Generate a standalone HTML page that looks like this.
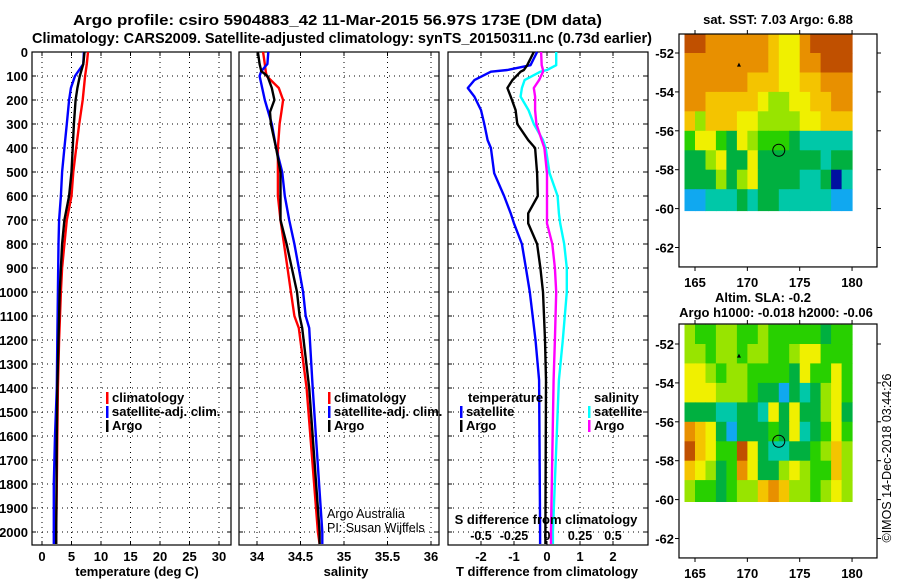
<!DOCTYPE html>
<html><head><meta charset="utf-8"><style>
body{margin:0;background:#fff}
svg{display:block;font-family:"Liberation Sans",sans-serif;font-weight:bold}
</style></head><body>
<svg id="s" width="900" height="580" viewBox="0 0 900 580"></svg>
<script>
const depthTicks=[0,100,200,300,400,500,600,700,800,900,1000,1100,1200,1300,1400,1500,1600,1700,1800,1900,2000];
const tempTicks=[0,5,10,15,20,25,30];
const salTicks=[34,34.5,35,35.5,36];
const salTickLabels=["34","34.5","35","35.5","36"];
const tdTicks=[-2,-1,0,1,2];
const sdTicks=[-0.5,-0.25,0,0.25,0.5];
const sdTickLabels=["-0.5","-0.25","0","0.25","0.5"];
const tDepth=[0,50,100,150,200,300,400,500,600,700,800,900,1000,1200,1400,1600,1800,2000,2050];
const tempClim=[7.8,7.6,7.3,7.1,6.9,6.3,5.8,5.3,5.0,4.2,3.8,3.4,3.2,2.9,2.7,2.6,2.5,2.4,2.4];
const tempSat=[7.1,7.0,5.6,4.9,4.6,4.2,3.8,3.4,3.2,2.9,2.8,2.75,2.7,2.6,2.5,2.2,2.0,2.0,2.0];
const tempArgo=[7.2,7.0,6.4,6.0,5.7,5.4,5.2,5.0,4.6,3.8,3.4,3.2,3.0,2.8,2.6,2.5,2.45,2.4,2.4];
const sDepth=[0,50,80,100,150,200,250,300,400,500,600,700,800,900,1000,1100,1150,1400,2000,2050];
const salClim=[34.07,34.09,34.1,34.11,34.25,34.3,34.28,34.26,34.24,34.24,34.24,34.27,34.31,34.35,34.39,34.43,34.48,34.57,34.70,34.72];
const salSat=[34.13,34.12,34.05,34.03,34.06,34.09,34.13,34.17,34.22,34.29,34.32,34.37,34.43,34.48,34.53,34.56,34.6,34.64,34.75,34.75];
const salArgo=[34.01,34.03,34.05,34.12,34.17,34.2,34.15,34.16,34.22,34.27,34.27,34.27,34.34,34.4,34.46,34.49,34.52,34.6,34.72,34.72];
const dDepth=[0,55,75,82,117,150,186,242,300,367,400,505,600,672,714,800,900,1000,1200,1367,2000,2050];
const tdSat=[-0.3,-0.5,-1.2,-1.7,-2.2,-2.4,-2.2,-2.0,-1.9,-1.8,-1.7,-1.6,-1.3,-1.1,-1.0,-0.76,-0.64,-0.52,-0.35,-0.24,-0.21,-0.21];
const tdArgo=[-0.4,-0.6,-0.7,-0.8,-1.05,-1.2,-1.1,-0.95,-0.9,-0.57,-0.36,-0.3,-0.28,-0.57,-0.57,-0.3,-0.2,-0.12,-0.06,-0.03,-0.05,-0.05];
const sdArgo=[-0.045,-0.04,-0.03,-0.03,-0.06,-0.1,-0.09,-0.09,-0.08,-0.04,-0.02,0,0,0,0,0.04,0.06,0.07,0.06,0.05,0.03,0.03];
const sdSat=[0.07,0.07,0.0,-0.05,-0.17,-0.19,-0.2,-0.14,-0.1,-0.03,-0.01,0.02,0.08,0.09,0.1,0.13,0.15,0.15,0.12,0.09,0.045,0.045];
const sstGrid=["9988888876689999","8888888876688999","8888887776677888","8877777655667788","7577766555566777","4664365444322222","3356336333333233","3335356333322302","1122232332222211"];
const slaGrid=["5445544544444344","5545545544566444","6654554444364464","6665554331323564","3332233263633563","8763133343623464","9764496322334575","7653486335654475","5443455787554565"];
const palette=["#0010a0","#10a8f0","#00c8a8","#00b040","#28d000","#98e400","#f0f000","#f4c400","#e89000","#c05000"];

const S=document.getElementById('s');const NS='http://www.w3.org/2000/svg';
function el(t,a,p){const e=document.createElementNS(NS,t);for(const k in a)e.setAttribute(k,a[k]);(p||S).appendChild(e);return e;}
function txt(x,y,s,o){o=o||{};const e=el('text',{x:x,y:y,'font-size':o.fs||13,'text-anchor':o.a||'start','font-weight':o.w||'bold',fill:o.c||'#000'});if(o.tr)e.setAttribute('transform',o.tr);if(o.tl){e.setAttribute('textLength',o.tl);e.setAttribute('lengthAdjust','spacingAndGlyphs');}e.textContent=s;return e;}
const B=545;
const yD=d=>52+d*0.24;
const panels=[
 {x0:32,x1:231,fx:v=>42+v*5.9,name:'temperature-panel'},
 {x0:239,x1:439,fx:v=>257+(v-34)*87,name:'salinity-panel'},
 {x0:448,x1:648,fx:v=>547+v*33,name:'difference-panel'}];
let t1=txt(73,25,"Argo profile: csiro 5904883_42 11-Mar-2015 56.97S 173E (DM data)",{fs:15,tl:529});

let t2=txt(32,43,"Climatology: CARS2009. Satellite-adjusted climatology: synTS_20150311.nc (0.73d earlier)",{fs:15,tl:620});

panels.forEach((p,i)=>{
 const g=el('g',{});
 p.g=g;
 depthTicks.forEach(d=>{el('line',{x1:p.x0,x2:p.x1,y1:yD(d),y2:yD(d),stroke:'#000','stroke-width':1,'stroke-dasharray':'1,4'},g);
  el('line',{x1:p.x0,x2:p.x0+4,y1:yD(d),y2:yD(d),stroke:'#000'},g);el('line',{x1:p.x1-4,x2:p.x1,y1:yD(d),y2:yD(d),stroke:'#000'},g);});
 el('rect',{x:p.x0,y:52,width:p.x1-p.x0,height:B-52,fill:'none',stroke:'#000','stroke-width':1.2},g);
});
depthTicks.forEach(d=>{const e=txt(28,yD(d)+5,String(d),{a:'end'});});
function vgrid(p,vals,fx){vals.forEach(v=>{const x=fx(v);el('line',{x1:x,x2:x,y1:52,y2:B,stroke:'#000','stroke-dasharray':'1,4'},p.g);el('line',{x1:x,x2:x,y1:B-4,y2:B,stroke:'#000'},p.g);el('line',{x1:x,x2:x,y1:52,y2:56,stroke:'#000'},p.g);});}
vgrid(panels[0],tempTicks,panels[0].fx);
vgrid(panels[1],salTicks,panels[1].fx);
vgrid(panels[2],tdTicks,panels[2].fx);
tempTicks.forEach(v=>{const e=txt(panels[0].fx(v),561,String(v),{a:'middle'});});
salTicks.forEach((v,i)=>{const e=txt(panels[1].fx(v),561,salTickLabels[i],{a:'middle'});});
tdTicks.forEach(v=>{const e=txt(panels[2].fx(v),561,String(v),{a:'middle'});});
const fs=v=>547+v*132;
sdTicks.forEach((v,i)=>{const e=txt(fs(v),540,sdTickLabels[i],{a:'middle',fs:12.5});});
let e;
e=txt(137,576,"temperature (deg C)",{a:'middle'});
e=txt(346,576,"salinity",{a:'middle'});
e=txt(547,576,"T difference from climatology",{a:'middle'});
e=txt(546,524,"S difference from climatology",{a:'middle'});
function line(p,depths,vals,fx,col,name){const pts=depths.map((d,i)=>fx(vals[i]).toFixed(1)+','+yD(d).toFixed(1)).join(' ');
 const l=el('polyline',{points:pts,fill:'none',stroke:col,'stroke-width':2.4,'stroke-linejoin':'round'},p.g);}
line(panels[0],tDepth,tempClim,panels[0].fx,'#ff0000','temp-climatology-line');
line(panels[0],tDepth,tempSat,panels[0].fx,'#0000ff','temp-satellite-line');
line(panels[0],tDepth,tempArgo,panels[0].fx,'#000','temp-argo-line');
line(panels[1],sDepth,salClim,panels[1].fx,'#ff0000','sal-climatology-line');
line(panels[1],sDepth,salSat,panels[1].fx,'#0000ff','sal-satellite-line');
line(panels[1],sDepth,salArgo,panels[1].fx,'#000','sal-argo-line');
line(panels[2],dDepth,sdSat,fs,'#00ffff','s-diff-satellite-line');
line(panels[2],dDepth,sdArgo,fs,'#ff00ff','s-diff-argo-line');
line(panels[2],dDepth,tdSat,panels[2].fx,'#0000ff','t-diff-satellite-line');
line(panels[2],dDepth,tdArgo,panels[2].fx,'#000','t-diff-argo-line');
function leg(x,y,col,label,name){const g=el('g',{});
 el('rect',{x:x,y:y-10,width:2.5,height:12,fill:col},g);const t=document.createElementNS(NS,'text');t.setAttribute('x',x+6);t.setAttribute('y',y);t.setAttribute('font-size',13);t.textContent=label;g.appendChild(t);}
leg(106,402,'#ff0000','climatology','legend-climatology');
leg(106,416,'#0000ff','satellite-adj. clim.','legend-satellite-adj');
leg(106,430,'#000','Argo','legend-argo');
leg(328,402,'#ff0000','climatology','legend-sal-climatology');
leg(328,416,'#0000ff','satellite-adj. clim.','legend-sal-satellite-adj');
leg(328,430,'#000','Argo','legend-sal-argo');
e=txt(468,402,"temperature");
leg(460,416,'#0000ff','satellite','legend-t-satellite');
leg(460,430,'#000','Argo','legend-t-argo');
e=txt(594,402,"salinity");
leg(588,416,'#00ffff','satellite','legend-s-satellite');
leg(588,430,'#ff00ff','Argo','legend-s-argo');
e=txt(327,518,"Argo Australia",{w:'normal',fs:12.5});
e=txt(327,532,"PI: Susan Wijffels",{w:'normal',fs:12.5});
const lonTicks=[165,170,175,180],latTicks=[-52,-54,-56,-58,-60,-62];
function map(top,lat52,grid,name){
 const g=el('g',{});
 const fx=lon=>695+(lon-165)*10.47, fy=lat=>lat52+(-52-lat)*19.45;
 grid.forEach((row,r)=>{for(let c=0;c<row.length;c++){const lat0=-51-r, lat1=(r==8?-60.1:-52-r);
  const x=fx(164+c),y=fy(lat0);const cell=el('rect',{x:x.toFixed(1),y:y.toFixed(1),width:(fx(165+c)-x+0.5).toFixed(1),height:(fy(lat1)-y+0.5).toFixed(1),fill:palette[+row[c]]},g);
  }});
 el('rect',{x:679,y:top,width:198,height:fy(-63)-top,fill:'none',stroke:'#000','stroke-width':1.2},g);
 lonTicks.forEach(l=>{el('line',{x1:fx(l),x2:fx(l),y1:top,y2:top-4,stroke:'#000'},g);el('line',{x1:fx(l),x2:fx(l),y1:fy(-63),y2:fy(-63)+4,stroke:'#000'},g);
  const t=txt(fx(l),fy(-63)+20,String(l),{a:'middle'});});
 latTicks.forEach(l=>{el('line',{x1:679,x2:675,y1:fy(l),y2:fy(l),stroke:'#000'},g);el('line',{x1:877,x2:881,y1:fy(l),y2:fy(l),stroke:'#000'},g);
  const t=txt(674,fy(l)+5,String(l),{a:'end'});});
 const c=el('circle',{cx:fx(173),cy:fy(-57),r:6,fill:'none',stroke:'#000','stroke-width':1},g);
 el('path',{d:`M${fx(169.2)-2},${fy(-52.6)+2}h4l-2,-4z`,fill:'#000'},g);
}
map(34,53,sstGrid,'sst-map');
map(324,344,slaGrid,'sla-map');
e=txt(778,24,"sat. SST: 7.03 Argo: 6.88",{a:'middle'});
e=txt(763,302,"Altim. SLA: -0.2",{a:'middle'});
e=txt(776,317,"Argo h1000: -0.018 h2000: -0.06",{a:'middle'});
e=txt(0,0,"©IMOS 14-Dec-2018 03:44:26",{a:'middle',w:'normal',fs:12.5,tr:'translate(891,458) rotate(-90)'});
</script>
</body></html>
